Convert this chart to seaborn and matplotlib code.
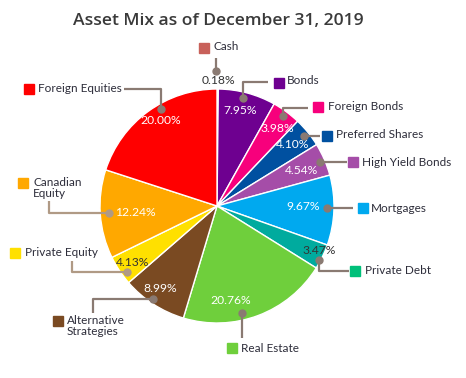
import matplotlib
matplotlib.use("Agg")
import matplotlib.pyplot as plt
import seaborn as sns

sns.set_theme(style="white")
plt.rcParams['font.family'] = ['Lato', 'DejaVu Sans']

# ---- data ----
categories = ["Cash", "Bonds", "Foreign Bonds", "Preferred Shares", "High Yield Bonds",
              "Mortgages", "Private Debt", "Real Estate", "Alternative Strategies",
              "Private Equity", "Canadian Equity", "Foreign Equities"]
values = [0.18, 7.95, 3.98, 4.10, 4.54, 9.67, 3.47, 20.76, 8.99, 4.13, 12.24, 20.00]
pct_labels = ["0.18%", "7.95%", "3.98%", "4.10%", "4.54%", "9.67%", "3.47%",
              "20.76%", "8.99%", "4.13%", "12.24%", "20.00%"]
legend_names = ["Cash", "Bonds", "Foreign Bonds", "Preferred Shares", "High Yield Bonds",
                "Mortgages", "Private Debt", "Real Estate", "Alternative\nStrategies",
                "Private Equity", "Canadian\nEquity", "Foreign Equities"]

# ---- styles ----
wedge_colors = ["#C8615A", "#6E0090", "#F7007C", "#0050A0", "#A54DA8", "#00A9EF",
                "#00AB9E", "#6FCF3C", "#7A4A22", "#FFE000", "#FFA800", "#FF0000"]
square_colors = ["#C8615A", "#6E0090", "#F7007C", "#0050A0", "#A54DA8", "#00A9EF",
                 "#00C07A", "#6FCF3C", "#7A4A22", "#FFE000", "#FFA800", "#FF0000"]
pct_colors = ["#333333", "white", "white", "white", "white", "white", "#333333",
              "white", "white", "#333333", "white", "white"]
line_colors = ["#8A7A72"] * 12
line_colors[9] = "#B09A85"
line_colors[10] = "#B09A85"

# ---- layout (pixel coords, y down) ----
center = (217, 206)
radius = 117
pct_pos = [(218, 81), (240, 110), (277, 128), (293, 145), (302, 170), (303, 207),
           (319, 251), (231, 301), (160, 289), (133, 262), (135, 212), (161, 121)]
dots = [(216, 71), (243, 98), (283, 116), (304, 136), (320, 162), (327, 208),
        (319, 260), (242, 313), (153, 299), (127, 272), (109, 213), (161, 109)]
paths = [
    [(216, 71), (216, 58)],
    [(243, 98), (243, 82), (268, 82)],
    [(283, 116), (283, 108), (308, 108)],
    [(304, 136), (320, 136)],
    [(320, 162), (347, 162)],
    [(327, 208), (353, 208)],
    [(319, 260), (319, 271), (349, 271)],
    [(242, 313), (242, 338)],
    [(153, 299), (93, 299), (93, 313)],
    [(127, 272), (72, 272), (72, 261)],
    [(109, 213), (49, 213), (49, 201)],
    [(161, 109), (161, 89), (124, 89)],
]
squares = [(204, 48), (279, 83), (318, 107), (327, 136), (353, 162), (363, 208),
           (355, 271), (232, 348), (58, 321), (15, 253), (23, 183), (29, 89)]
texts = [(213, 47), (287, 81), (328, 107), (336, 135), (362, 162), (371, 208),
         (365, 270), (241, 348), (67, 326), (25, 253), (33, 188), (38, 89)]

fig = plt.figure(figsize=(4.66, 3.78), dpi=100)
ax = fig.add_axes([0, 0, 1, 1])

ax.pie(values, colors=wedge_colors, startangle=-90, counterclock=True,
       center=center, radius=radius,
       wedgeprops=dict(edgecolor="white", linewidth=1.0))
ax.set_xlim(0, 466)
ax.set_ylim(378, 0)
ax.set_aspect("equal")
ax.axis("off")

for i in range(len(values)):
    xs = [p[0] for p in paths[i]]
    ys = [p[1] for p in paths[i]]
    ax.plot(xs, ys, color=line_colors[i], lw=1.6, solid_capstyle="butt", zorder=5)
    ax.plot(*dots[i], "o", color=line_colors[i], ms=5, zorder=6)
    ax.plot(*squares[i], "s", color=square_colors[i], ms=7.5, zorder=6)
    ax.text(*texts[i], legend_names[i], fontsize=8.5, color="#2d2d3a",
            ha="left", va="center", linespacing=0.95, zorder=7)
    ax.text(*pct_pos[i], pct_labels[i], fontsize=8.7, color=pct_colors[i],
            ha="center", va="center", zorder=7)

ax.text(218, 21, "Asset Mix as of December 31, 2019", fontsize=12.6,
        fontweight="semibold", family=["Open Sans", "DejaVu Sans"],
        color="#3a3a3a", ha="center", va="center")

fig.savefig("out.png", dpi=100)
